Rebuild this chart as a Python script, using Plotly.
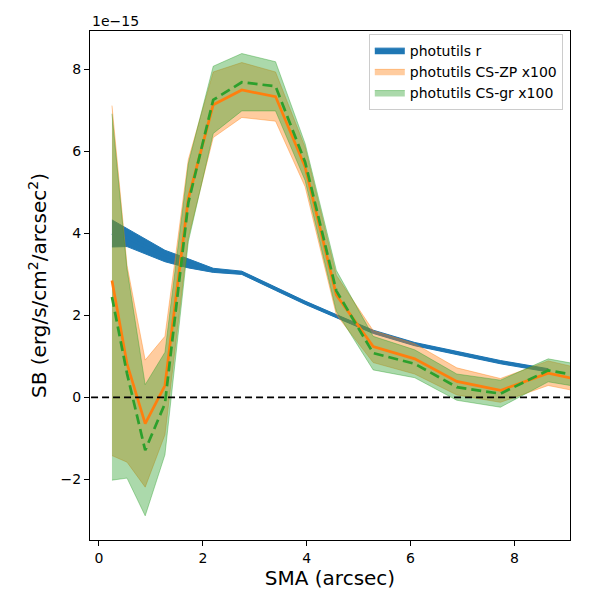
import plotly.graph_objects as go

# Semi-major axis (arcsec)
sma = [0.25, 0.54, 0.89, 1.27, 1.72, 2.2, 2.75, 3.4, 3.97, 4.57, 5.28, 6.08, 6.89, 7.73, 8.65, 9.6]

# photutils r profile (units of 1e-15 erg/s/cm2/arcsec2)
sb_r = [4.0, 3.9, 3.68, 3.45, 3.27, 3.1, 3.04, 2.65, 2.31, 1.98, 1.6, 1.3, 1.08, 0.86, 0.66]
err_r = [0.33, 0.22, 0.18, 0.14, 0.11, 0.05, 0.04, 0.04, 0.04, 0.04, 0.04, 0.04, 0.04, 0.04, 0.04]

# photutils CS-ZP x100
sb_zp = [2.85, 0.82, -0.64, 0.29, 4.85, 7.14, 7.5, 7.34, 5.62, 2.5, 1.24, 0.94, 0.39, 0.17, 0.59, 0.33]
err_zp = [4.27, 2.4, 1.55, 1.2, 0.95, 0.8, 0.67, 0.6, 0.48, 0.48, 0.39, 0.37, 0.33, 0.29, 0.3, 0.28]

# photutils CS-gr x100
sb_gr = [2.45, 0.58, -1.29, -0.15, 4.75, 7.26, 7.69, 7.59, 5.74, 2.6, 1.08, 0.82, 0.25, 0.09, 0.66, 0.45]
err_gr = [4.47, 2.55, 1.6, 1.25, 0.95, 0.82, 0.7, 0.6, 0.45, 0.5, 0.41, 0.34, 0.32, 0.33, 0.28, 0.27]

C0 = "#1f77b4"
C1 = "#ff7f0e"
C2 = "#2ca02c"


def band(x, y, e):
    up = [a + b for a, b in zip(y, e)]
    lo = [a - b for a, b in zip(y, e)]
    return list(x) + list(x[::-1]), up + lo[::-1]


fig = go.Figure()

bx, by = band(sma[:len(sb_r)], sb_r, err_r)
fig.add_trace(go.Scatter(x=bx, y=by, fill="toself", fillcolor=C0, mode="lines",
                         line=dict(color=C0, width=1), name="photutils r"))
fig.add_trace(go.Scatter(x=sma[:len(sb_r)], y=sb_r, mode="lines",
                         line=dict(color=C0, width=2.7), showlegend=False, hoverinfo="skip"))

bx, by = band(sma, sb_zp, err_zp)
fig.add_trace(go.Scatter(x=bx, y=by, fill="toself", fillcolor="rgba(255,127,14,0.4)", mode="lines",
                         line=dict(color="rgba(255,127,14,0.4)", width=1), name="photutils CS-ZP x100"))

bx, by = band(sma, sb_gr, err_gr)
fig.add_trace(go.Scatter(x=bx, y=by, fill="toself", fillcolor="rgba(44,160,44,0.4)", mode="lines",
                         line=dict(color="rgba(44,160,44,0.4)", width=1), name="photutils CS-gr x100"))

fig.add_trace(go.Scatter(x=sma, y=sb_zp, mode="lines", line=dict(color=C1, width=2.7),
                         showlegend=False, hoverinfo="skip"))
fig.add_trace(go.Scatter(x=sma, y=sb_gr, mode="lines", line=dict(color=C2, width=2.7, dash="10px,5px"),
                         showlegend=False, hoverinfo="skip"))

# zero line
fig.add_trace(go.Scatter(x=[-1, 10], y=[0, 0], mode="lines",
                         line=dict(color="black", width=1.8, dash="7px,4px"),
                         showlegend=False, hoverinfo="skip"))

axis_common = dict(showline=True, linecolor="black", linewidth=1.2, mirror=True,
                   ticks="outside", ticklen=5, tickwidth=1, tickcolor="black",
                   showgrid=False, zeroline=False, automargin=False,
                   tickfont=dict(family="DejaVu Sans", size=14, color="black"))

fig.update_xaxes(range=[-0.173, 9.07], tickmode="array", tickvals=[0, 2, 4, 6, 8],
                 title=dict(text="SMA (arcsec)", font=dict(family="DejaVu Sans", size=20, color="black"),
                            standoff=6),
                 **axis_common)
fig.update_yaxes(range=[-3.48, 8.94], tickmode="array", tickvals=[-2, 0, 2, 4, 6, 8],
                 title=dict(text="SB (erg/s/cm<sup>2</sup>/arcsec<sup>2</sup>)",
                            font=dict(family="DejaVu Sans", size=20, color="black"), standoff=8),
                 **axis_common)

fig.add_annotation(text="1e\u221215", xref="paper", yref="paper", x=0, y=1,
                   xanchor="left", yanchor="bottom", showarrow=False,
                   font=dict(family="DejaVu Sans", size=14, color="black"))

fig.update_layout(
    width=600, height=600,
    margin=dict(l=82, r=38, t=23, b=68),
    plot_bgcolor="white", paper_bgcolor="white",
    legend=dict(x=0.985, y=0.995, xanchor="right", yanchor="top",
                bgcolor="rgba(255,255,255,0.8)", bordercolor="#cccccc", borderwidth=1,
                font=dict(family="DejaVu Sans", size=14, color="black")),
)

fig.write_html("out.html")
